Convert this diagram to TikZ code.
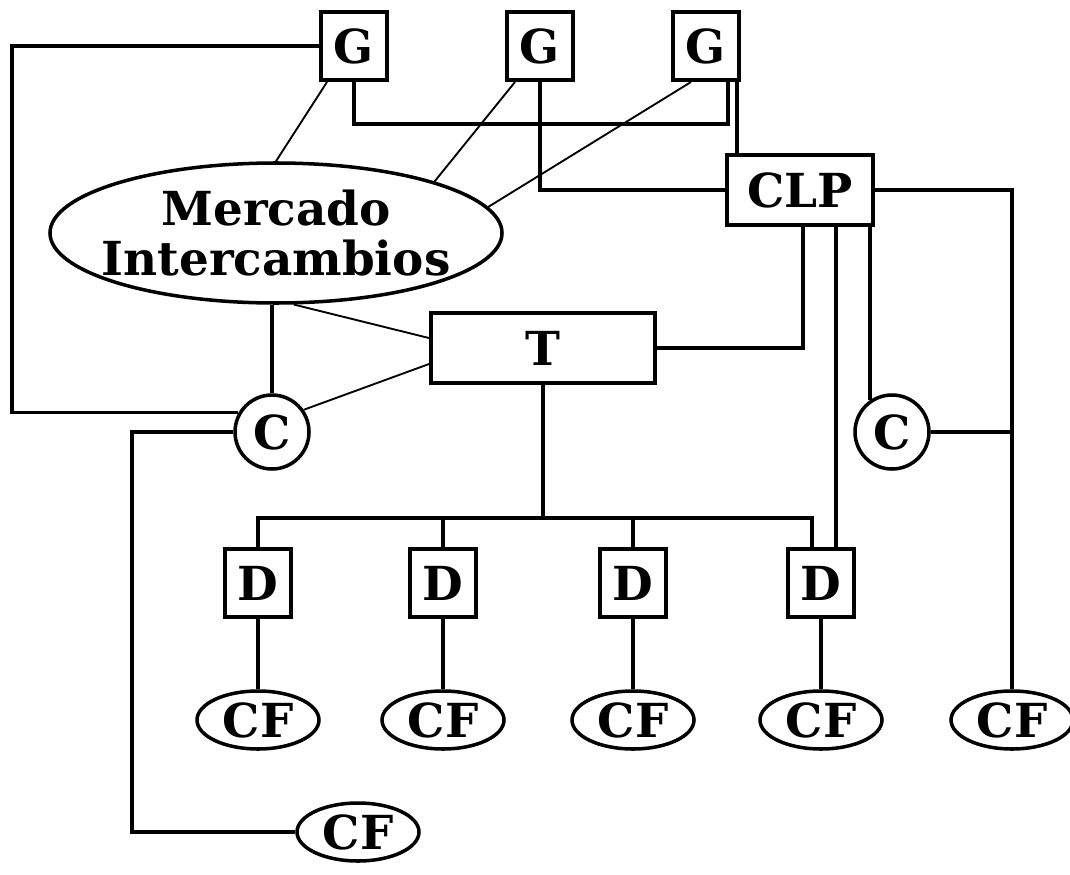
\documentclass[tikz,border=0pt]{standalone}
\usepackage{fontspec}
\setmainfont{DejaVu Serif}
\usetikzlibrary{shapes,positioning,calc}

\begin{document}
\begin{tikzpicture}[x=0.03cm,y=-0.03cm,line width=3.2pt,
  lbl/.style={font=\fontsize{40}{42}\selectfont\bfseries},
  box/.style={lbl,draw,line width=3.4pt,fill=white,inner sep=0pt,minimum width=1.98cm,minimum height=2.04cm},
  wide/.style={box,minimum height=2.1cm},
  cir/.style={lbl,draw,circle,line width=3pt,fill=white,inner sep=0pt,minimum size=2.22cm},
  cf/.style={lbl,draw,ellipse,line width=3pt,fill=white,inner sep=0pt,minimum width=3.66cm,minimum height=1.74cm},
  thinline/.style={line width=1.6pt}]
  \useasboundingbox (0,0) rectangle (1070,875);

  \coordinate (lft) at (12,0);
  \coordinate (cfl) at (132,0);
  \coordinate (bus) at (0,518);

  \node[box] (g1) at (354,46) {G};
  \node[box] (g2) at (540,46) {G};
  \node[box] (g3) at (706,46) {G};
  \node[wide,minimum width=4.38cm] (clp) at (800,190) {CLP};
  \node[lbl,draw,ellipse,line width=3pt,align=center,inner xsep=-18pt,inner ysep=0pt,
        minimum width=13.56cm,minimum height=4.2cm] (mi) at (276,233) {Mercado\\Intercambios};
  \node[wide,minimum width=6.72cm] (t) at (543,348) {T};
  \node[cir] (cl) at (272,432) {C};
  \node[cir] (cr) at (892,432) {C};
  \foreach \x [count=\i] in {258,443,633,821} {
    \node[box] (d\i) at (\x,583) {D};
    \node[cf] (cf\i) at (\x,720) {CF};
    \draw (d\i.south) -- (cf\i.north);
  }
  \node[cf] (cf5) at (1012,720) {CF};
  \node[cf] (cf6) at (358,832) {CF};

  \draw (g1.west) -| (lft |- cl.150) -- (cl.150);
  \draw (g1.south) -- ++(0,42) -| ($(g3.south)+(22,0)$);
  \draw ($(g3.south)+(31,0)$) coordinate (g3b) -- (g3b |- clp.north);
  \draw (g2.south) |- (clp.west);
  \draw (clp.east) -| (cf5.north);
  \draw (cr.east) -- (cr.east -| cf5.north);
  \draw ($(clp.south)+(3,0)$) |- (t.east);
  \draw ($(clp.south)+(36,0)$) coordinate (k) -- (k |- d4.north);
  \draw (cr.125) -- (cr.125 |- clp.south);

  \draw[thinline] ($(g1.south west)+(8,0)$) -- (mi.north);
  \draw[thinline] ($(g2.south west)+(10,0)$) -- (mi.18);
  \draw[thinline] ($(g3.south west)+(20,0)$) -- (mi.7);
  \draw[thinline] (mi.-76) -- (t.175);
  \draw[thinline] (cl.35) -- (t.188);

  \draw (cl.north) -- (cl.north |- mi.south);
  \draw (cl.west) -- (cl.west -| cfl) |- (cf6.west);

  \coordinate (d4in) at ($(d4.north)+(-9,0)$);
  \draw (t.south) -- (t.south |- bus);
  \draw (d1.north) -- (d1.north |- bus) -- (d4in |- bus) -- (d4in);
  \draw (d2.north) -- (d2.north |- bus);
  \draw (d3.north) -- (d3.north |- bus);
\end{tikzpicture}
\end{document}
